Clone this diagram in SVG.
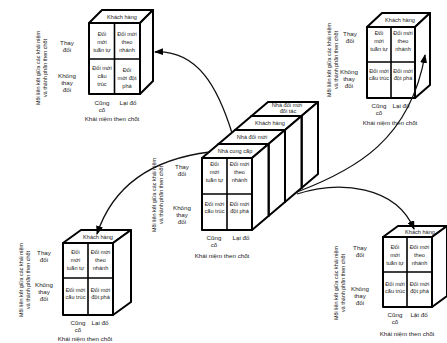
<svg xmlns="http://www.w3.org/2000/svg" width="447" height="343" viewBox="0 0 447 343">
<defs>
<style>
.box{fill:#fff;stroke:#000;stroke-width:2;stroke-linejoin:round}
.g{stroke:#000;stroke-width:1.6;fill:none}
.t{font-family:"Liberation Sans",Arial,sans-serif;font-size:5.6px;text-anchor:middle;fill:#222}
.l{font-family:"Liberation Sans",Arial,sans-serif;font-size:6.2px;text-anchor:middle;fill:#222}
.r{font-family:"Liberation Sans",Arial,sans-serif;font-size:5.4px;text-anchor:middle;fill:#222}
.c{fill:none;stroke:#111;stroke-width:1.3}
</style>
<marker id="ah" markerUnits="userSpaceOnUse" markerWidth="9" markerHeight="7" refX="8" refY="3.5" orient="auto">
<path d="M0,0 L9,3.5 L0,7 z" fill="#000"/>
</marker>
</defs>
<rect width="447" height="343" fill="#fff"/>

<!-- Cube 1 top-left -->
<g id="cube1">
<polygon class="box" points="89,23 140,23 153,10 102,10"/>
<polygon class="box" points="140,23 153,10 153,81 140,94"/>
<rect class="box" x="89" y="23" width="51" height="71"/>
<line class="g" x1="114.5" y1="23" x2="114.5" y2="94"/>
<line class="g" x1="89" y1="59" x2="140" y2="59"/>
<text class="t" x="122" y="18.5">Khách hàng</text>
<text class="t" x="102" y="36">Đổi</text><text class="t" x="102" y="44">mới</text><text class="t" x="102" y="52">tuần tự</text>
<text class="t" x="127" y="36">Đổi mới</text><text class="t" x="127" y="44">theo</text><text class="t" x="127" y="52">nhánh</text>
<text class="t" x="102" y="70">Đổi mới</text><text class="t" x="102" y="78">cấu</text><text class="t" x="102" y="86">trúc</text>
<text class="t" x="127" y="72">Đổi</text><text class="t" x="127" y="80">mới đột</text><text class="t" x="127" y="88">phá</text>
<text class="l" x="67" y="45">Thay</text><text class="l" x="67" y="52">đổi</text>
<text class="l" x="67" y="78">Không</text><text class="l" x="67" y="85">thay</text><text class="l" x="67" y="92">đổi</text>
<text class="l" x="102" y="105">Cũng</text><text class="l" x="102" y="112">cố</text>
<text class="l" x="128" y="105">Lại đổ</text>
<text class="l" x="112" y="121">Khái niệm then chốt</text>
<g transform="translate(40,68) rotate(-90)"><text class="r" x="0" y="0">Mối liên kết giữa các khái niệm</text><text class="r" x="0" y="7">và thành phần then chốt</text></g>
</g>

<!-- Cube 2 top-right -->
<g id="cube2">
<polygon class="box" points="367,27 415,27 430,13 382,13"/>
<polygon class="box" points="415,27 430,13 430,85 415,98"/>
<rect class="box" x="367" y="27" width="48" height="71"/>
<line class="g" x1="391" y1="27" x2="391" y2="98"/>
<line class="g" x1="367" y1="62" x2="415" y2="62"/>
<text class="t" x="400" y="22">Khách hàng</text>
<text class="t" x="379" y="35">Đổi</text><text class="t" x="379" y="43">mới</text><text class="t" x="379" y="51">tuần tự</text>
<text class="t" x="403" y="35">Đổi mới</text><text class="t" x="403" y="43">theo</text><text class="t" x="403" y="51">nhánh</text>
<text class="t" x="379" y="73">Đổi mới</text><text class="t" x="379" y="80">cấu trúc</text>
<text class="t" x="403" y="73">Đổi mới</text><text class="t" x="403" y="80">đột phá</text>
<text class="l" x="350" y="36">Thay</text><text class="l" x="350" y="43">đổi</text>
<text class="l" x="349" y="74">Không</text><text class="l" x="349" y="81">thay</text><text class="l" x="349" y="88">đổi</text>
<text class="l" x="379" y="108">Cũng</text><text class="l" x="379" y="115">cố</text>
<text class="l" x="401" y="108">Lại đổ</text>
<text class="l" x="390" y="125">Khái niệm then chốt</text>
<g transform="translate(331,60) rotate(-90)"><text class="r" x="0" y="0">Mối liên kết giữa các khái niệm</text><text class="r" x="0" y="7">và thành phần then chốt</text></g>
</g>

<!-- Central stack -->
<g id="stack">
<g id="slab4">
<polygon class="box" points="251.5,116 301.5,116 318,102 268,102"/>
<polygon class="box" points="301.5,116 318,102 318,174 301.5,188"/>
<rect class="box" x="251.5" y="116" width="50" height="72"/>
</g>
<g id="slab3">
<polygon class="box" points="235,130 285,130 301.5,116 251.5,116"/>
<polygon class="box" points="285,130 301.5,116 301.5,188 285,202"/>
<rect class="box" x="235" y="130" width="50" height="72"/>
</g>
<g id="slab2">
<polygon class="box" points="218.5,144 268.5,144 285,130 235,130"/>
<polygon class="box" points="268.5,144 285,130 285,202 268.5,216"/>
<rect class="box" x="218.5" y="144" width="50" height="72"/>
</g>
<g id="slab1">
<polygon class="box" points="202,158 252,158 268.5,144 218.5,144"/>
<polygon class="box" points="252,158 268.5,144 268.5,216 252,230"/>
<rect class="box" x="202" y="158" width="50" height="72"/>
<line class="g" x1="227" y1="158" x2="227" y2="230"/>
<line class="g" x1="202" y1="194" x2="252" y2="194"/>
</g>
<text class="t" x="287" y="106.5">Nhà đổi mới</text><text class="t" x="288" y="113">đối tác</text>
<text class="t" x="270" y="125">Khách hàng</text>
<text class="t" x="252" y="139">Nhà đổi mới</text>
<text class="t" x="235" y="153">Nhà cung cấp</text>
<text class="t" x="214.5" y="166">Đổi</text><text class="t" x="214.5" y="174">mới</text><text class="t" x="214.5" y="182">tuần tự</text>
<text class="t" x="239.5" y="166">Đổi mới</text><text class="t" x="239.5" y="174">theo</text><text class="t" x="239.5" y="182">nhánh</text>
<text class="t" x="214.5" y="206">Đổi mới</text><text class="t" x="214.5" y="213">cấu trúc</text>
<text class="t" x="239.5" y="206">Đổi mới</text><text class="t" x="239.5" y="213">đột phá</text>
<text class="l" x="182" y="169">Thay</text><text class="l" x="182" y="176">đổi</text>
<text class="l" x="182" y="210">Không</text><text class="l" x="182" y="217">thay</text><text class="l" x="182" y="224">đổi</text>
<text class="l" x="214" y="240">Cũng</text><text class="l" x="214" y="247">cố</text>
<text class="l" x="241" y="240">Lại đổ</text>
<text class="l" x="222" y="258">Khái niệm then chốt</text>
<g transform="translate(156,195) rotate(-90)"><text class="r" x="0" y="0">Mối liên kết giữa các khái niệm</text><text class="r" x="0" y="6.5">và thành phần then chốt</text></g>
</g>

<!-- Cube 3 bottom-left -->
<g id="cube3">
<polygon class="box" points="63,243 113,243 131,230 81,230"/>
<polygon class="box" points="113,243 131,230 131,302 113,315"/>
<rect class="box" x="63" y="243" width="50" height="72"/>
<line class="g" x1="88" y1="243" x2="88" y2="315"/>
<line class="g" x1="63" y1="278" x2="113" y2="278"/>
<text class="t" x="98" y="239">Khách hàng</text>
<text class="t" x="75.5" y="254">Đổi</text><text class="t" x="75.5" y="262">mới</text><text class="t" x="75.5" y="270">tuần tự</text>
<text class="t" x="100.5" y="254">Đổi mới</text><text class="t" x="100.5" y="262">theo</text><text class="t" x="100.5" y="270">nhánh</text>
<text class="t" x="75.5" y="292">Đổi mới</text><text class="t" x="75.5" y="299">cấu trúc</text>
<text class="t" x="100.5" y="292">Đổi mới</text><text class="t" x="100.5" y="299">đột phá</text>
<text class="l" x="44" y="255">Thay</text><text class="l" x="44" y="262">đổi</text>
<text class="l" x="44" y="287">Không</text><text class="l" x="44" y="294">thay</text><text class="l" x="44" y="301">đổi</text>
<text class="l" x="78" y="325">Cũng</text><text class="l" x="78" y="332">cố</text>
<text class="l" x="100" y="325">Lại đổ</text>
<text class="l" x="85" y="341">Khái niệm then chốt</text>
<g transform="translate(23,280) rotate(-90)"><text class="r" x="0" y="0">Mối liên kết giữa các khái niệm</text><text class="r" x="0" y="6.5">và thành phần then chốt</text></g>
</g>

<!-- Cube 4 bottom-right -->
<g id="cube4">
<polygon class="box" points="383,237 432,237 447,226 398,226"/>
<polygon class="box" points="432,237 447,226 447,296 432,307"/>
<rect class="box" x="383" y="237" width="49" height="70"/>
<line class="g" x1="407" y1="237" x2="407" y2="307"/>
<line class="g" x1="383" y1="272" x2="432" y2="272"/>
<text class="t" x="420" y="233.5">Khách hàng</text>
<text class="t" x="395" y="249">Đổi</text><text class="t" x="395" y="257">mới</text><text class="t" x="395" y="265">tuần tự</text>
<text class="t" x="419.5" y="249">Đổi mới</text><text class="t" x="419.5" y="257">theo</text><text class="t" x="419.5" y="265">nhánh</text>
<text class="t" x="395" y="286">Đổi mới</text><text class="t" x="395" y="293">cấu trúc</text>
<text class="t" x="419.5" y="286">Đổi mới</text><text class="t" x="419.5" y="293">đột phá</text>
<text class="l" x="360" y="250">Thay</text><text class="l" x="360" y="257">đổi</text>
<text class="l" x="360" y="291">Không</text><text class="l" x="360" y="298">thay</text><text class="l" x="360" y="305">đổi</text>
<text class="l" x="395" y="317">Cũng</text><text class="l" x="395" y="324">cố</text>
<text class="l" x="419" y="317">Lật đổ</text>
<text class="l" x="407" y="336">Khái niệm then chốt</text>
<g transform="translate(338,283) rotate(-90)"><text class="r" x="0" y="0">Mối liên kết giữa các khái niệm</text><text class="r" x="0" y="6.5">và thành phần then chốt</text></g>
</g>

<!-- Connectors -->
<g id="connectors">
<path class="c" d="M232,133 C218,88 198,50 155,52" marker-end="url(#ah)"/>
<path class="c" d="M297,192 C355,170 410,140 425,55" marker-end="url(#ah)"/>
<path class="c" d="M297,194 C340,180 396,186 414,229" marker-end="url(#ah)"/>
<path class="c" d="M210,152 C160,158 115,180 97,234" marker-end="url(#ah)"/>
</g>
</svg>
